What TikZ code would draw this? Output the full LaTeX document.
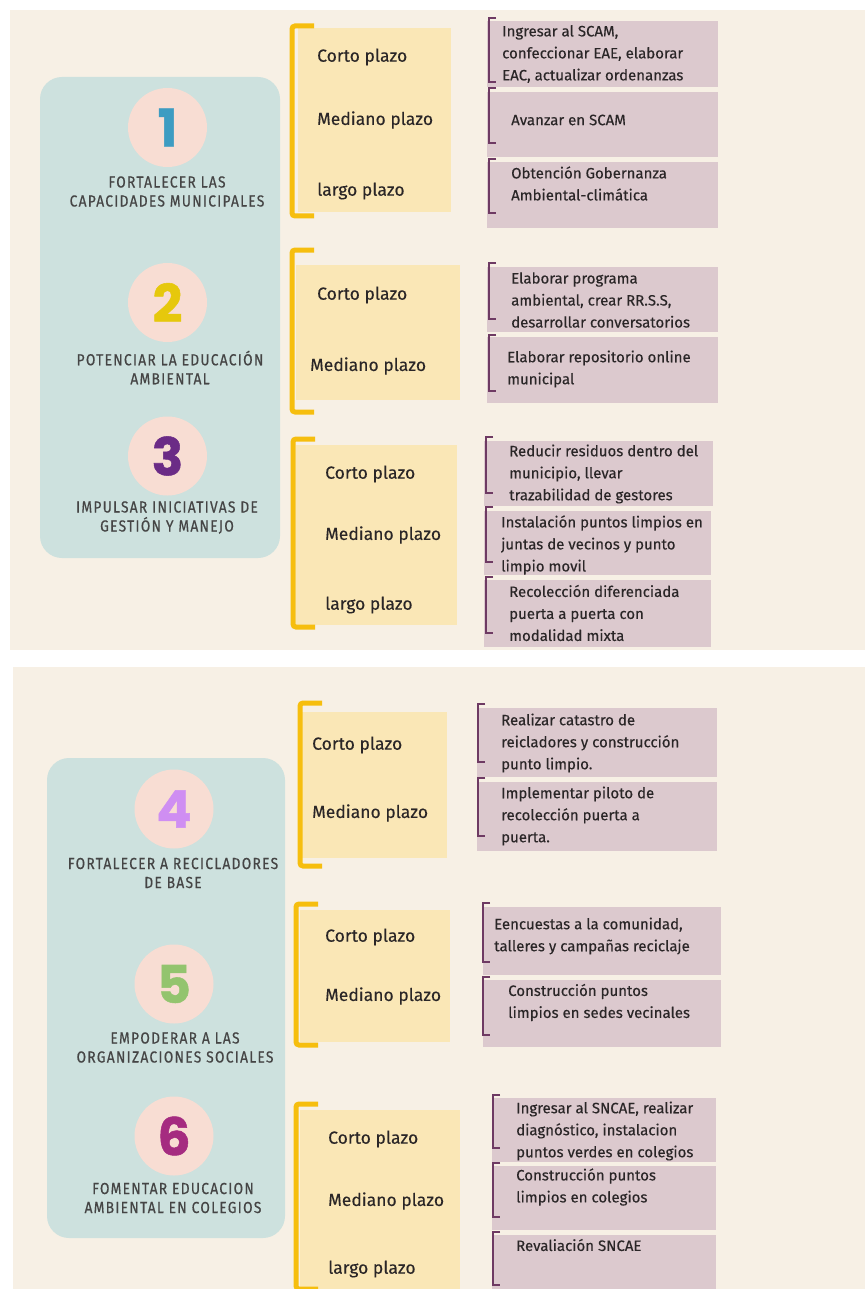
\documentclass[tikz,border=0pt]{standalone}
\usepackage{fontspec}
\setmainfont{Fira Sans}[FakeBold=0.25]
\newfontfamily\headfont{Fira Sans}[FakeStretch=0.86,LetterSpace=8,FakeBold=0.5]
\newfontfamily\numfont{Poppins}[FakeBold=1]
\usetikzlibrary{positioning}
\definecolor{panelcream}{HTML}{F7F0E5}
\definecolor{tealbox}{HTML}{CDE1DE}
\definecolor{circpink}{HTML}{F8DDD3}
\definecolor{plazoyellow}{HTML}{FAE7B6}
\definecolor{brkyellow}{HTML}{F6BE0E}
\definecolor{accmauve}{HTML}{DCC9CE}
\definecolor{brkpurple}{HTML}{6E3A63}
\definecolor{numblue}{HTML}{3D9CC2}
\definecolor{numyellow}{HTML}{E6C80C}
\definecolor{numpurple}{HTML}{6B2B86}
\definecolor{numlilac}{HTML}{CF8EF2}
\definecolor{numgreen}{HTML}{93C46E}
\definecolor{nummagenta}{HTML}{A52B80}
\definecolor{headgrey}{HTML}{454545}
\definecolor{inkdark}{HTML}{2A2627}
\newcommand{\plazobrk}[3]{\draw[brkyellow, line width=5pt, rounded corners=3pt] (#1+22,#2) -- (#1,#2) -- (#1,#3) -- (#1+22,#3);}
\newcommand{\accbrk}[3]{\draw[brkpurple, line width=1.6pt] (#1+7,#2) -- (#1,#2) -- (#1,#3) -- (#1+7,#3);}
\tikzset{
	plazo/.style={anchor=west, inner sep=0pt, font=\fontsize{17.5}{20}\selectfont, text=inkdark},
	accion/.style={anchor=west, inner sep=0pt, align=left, font=\fontsize{15}{22}\selectfont, text=inkdark},
	meta/.style={inner sep=0pt, align=center, font=\headfont\fontsize{16}{19}\selectfont, text=headgrey},
	numcirc/.style={circle, fill=circpink, minimum size=79pt, inner sep=0pt, font=\numfont\bfseries\fontsize{52}{52}\selectfont}
}
\begin{document}
\begin{tikzpicture}[x=1pt, y=-1pt]

	\useasboundingbox (0,0) rectangle (865,1289);
	\fill[white] (0,0) rectangle (865,1289);

	\fill[panelcream] (10,10) rectangle (865,650);
	\fill[tealbox, rounded corners=22pt] (40,77) rectangle (280,558);

	\node[numcirc, text=numblue] (num1) at (167.5,127.5) {1};
	\node[meta] (meta1) at (167,191.5) {FORTALECER LAS\\CAPACIDADES MUNICIPALES};

	\node[numcirc, text=numyellow] (num2) at (167.5,302.5) {2};
	\node[meta] (meta2) at (170,367.5) {POTENCIAR LA EDUCACIÓN\\AMBIENTAL};

	\node[numcirc, text=numpurple] (num3) at (167.5,456) {3};
	\node[meta] (meta3) at (167,517.5) {IMPULSAR INICIATIVAS DE\\GESTIÓN Y MANEJO};

	\fill[plazoyellow] (298,28) rectangle (451,212);
	\plazobrk{292}{26}{216}
	\node[plazo] (corto1) at (317,57) {Corto plazo};
	\node[plazo] (mediano1) at (317,120) {Mediano plazo};
	\node[plazo] (largo1) at (317,191) {largo plazo};

	\fill[plazoyellow] (296,265) rectangle (460,400);
	\plazobrk{292}{250}{412}
	\node[plazo] (corto2) at (317,295) {Corto plazo};
	\node[plazo] (mediano2) at (310,366) {Mediano plazo};

	\fill[plazoyellow] (296,445) rectangle (457,625);
	\plazobrk{293}{439}{627}
	\node[plazo] (corto3) at (325,474) {Corto plazo};
	\node[plazo] (mediano3) at (325,535) {Mediano plazo};
	\node[plazo] (largo3) at (325,605) {largo plazo};

	\fill[accmauve] (487,21) rectangle (718,87);
	\accbrk{489}{18}{82}
	\node[accion] (acc1a) at (502,54) {Ingresar al SCAM,\\confeccionar EAE, elaborar\\EAC, actualizar ordenanzas};

	\fill[accmauve] (487,92) rectangle (718,157);
	\accbrk{489}{88}{143}
	\node[accion] (acc1b) at (511,120) {Avanzar en SCAM};

	\fill[accmauve] (487,162) rectangle (718,228);
	\accbrk{489}{159}{213}
	\node[accion] (acc1c) at (511,183.5) {Obtención Gobernanza\\Ambiental-climática};

	\fill[accmauve] (487,267) rectangle (718,332);
	\accbrk{489}{263}{319}
	\node[accion] (acc2a) at (511,300) {Elaborar programa\\ambiental, crear RR.S.S,\\desarrollar conversatorios};

	\fill[accmauve] (487,337) rectangle (718,403);
	\accbrk{489}{335}{391}
	\node[accion] (acc2b) at (507,369) {Elaborar repositorio online\\municipal};

	\fill[accmauve] (484,441) rectangle (713,506);
	\accbrk{486}{437}{493}
	\node[accion] (acc3a) at (509,474) {Reducir residuos dentro del\\municipio, llevar\\trazabilidad de gestores};

	\fill[accmauve] (484,511) rectangle (711,575);
	\accbrk{486}{507}{562}
	\node[accion] (acc3b) at (501,545) {Instalación puntos limpios en\\juntas de vecinos y punto\\limpio movil};

	\fill[accmauve] (484,580) rectangle (711,647);
	\accbrk{486}{577}{633}
	\node[accion] (acc3c) at (509,613) {Recolección diferenciada\\puerta a puerta con\\modalidad mixta};

	\fill[panelcream] (13,667) rectangle (865,1289);
	\fill[tealbox, rounded corners=22pt] (47,758) rectangle (285,1238);

	\node[numcirc, text=numlilac] (num4) at (174,809) {4};
	\node[meta] (meta4) at (173,873) {FORTALECER A RECICLADORES\\DE BASE};

	\node[numcirc, text=numgreen] (num5) at (174,984) {5};
	\node[meta] (meta5) at (175,1047.5) {EMPODERAR A LAS\\ORGANIZACIONES SOCIALES};

	\node[numcirc, text=nummagenta] (num6) at (174,1136) {6};
	\node[meta] (meta6) at (173,1198) {FOMENTAR EDUCACION\\AMBIENTAL EN COLEGIOS};

	\fill[plazoyellow] (302,712) rectangle (447,858);
	\plazobrk{300}{703}{866}
	\node[plazo] (corto4) at (312,745) {Corto plazo};
	\node[plazo] (mediano4) at (312,813) {Mediano plazo};

	\fill[plazoyellow] (300,910) rectangle (450,1042);
	\plazobrk{296}{904}{1045}
	\node[plazo] (corto5) at (325,937) {Corto plazo};
	\node[plazo] (mediano5) at (325,996) {Mediano plazo};

	\fill[plazoyellow] (300,1110) rectangle (460,1289);
	\plazobrk{296}{1104}{1289}
	\node[plazo] (corto6) at (328,1139) {Corto plazo};
	\node[plazo] (mediano6) at (328,1201) {Mediano plazo};
	\node[plazo] (largo6) at (328,1269) {largo plazo};

	\fill[accmauve] (477,708) rectangle (717,777);
	\accbrk{478}{704}{762}
	\node[accion] (acc4a) at (501,743) {Realizar catastro de\\reicladores y construcción\\punto limpio.};

	\fill[accmauve] (477,782) rectangle (717,851);
	\accbrk{478}{778}{836}
	\node[accion] (acc4b) at (501,816) {Implementar piloto de\\recolección puerta a\\puerta.};

	\fill[accmauve] (483,907) rectangle (721,975);
	\accbrk{483}{903}{962}
	\node[accion] (acc5a) at (494,936) {Eencuestas a la comunidad,\\talleres y campañas reciclaje};

	\fill[accmauve] (483,980) rectangle (721,1047);
	\accbrk{483}{977}{1035}
	\node[accion] (acc5b) at (508,1002.5) {Construcción puntos\\limpios en sedes vecinales};

	\fill[accmauve] (492,1098) rectangle (716,1162);
	\accbrk{493}{1095}{1148}
	\node[accion] (acc6a) at (516,1131) {Ingresar al SNCAE, realizar\\diagnóstico, instalacion\\puntos verdes en colegios};

	\fill[accmauve] (492,1166) rectangle (716,1230);
	\accbrk{493}{1163}{1217}
	\node[accion] (acc6b) at (516,1187) {Construcción puntos\\limpios en colegios};

	\fill[accmauve] (492,1235) rectangle (716,1289);
	\accbrk{493}{1232}{1285}
	\node[accion] (acc6c) at (516,1245) {Revaliación SNCAE};

\end{tikzpicture}
\end{document}
